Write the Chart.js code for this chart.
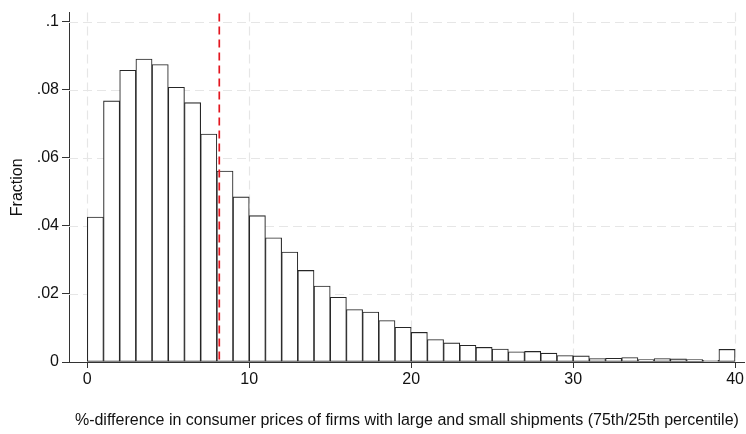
<!DOCTYPE html>
<html>
<head>
<meta charset="utf-8">
<script src="https://cdn.jsdelivr.net/npm/chart.js@4.4.1/dist/chart.umd.min.js"></script>
<style>
  html, body { margin: 0; padding: 0; background: #ffffff; }
  #wrap { width: 746px; height: 434px; }
</style>
</head>
<body>
<div id="wrap"><canvas id="hist" width="746" height="434"></canvas></div>
<script>
// Histogram bins: lower edge of each 1-point bin (percent difference)
const binStarts = [0,1,2,3,4,5,6,7,8,9,10,11,12,13,14,15,16,17,18,19,
                   20,21,22,23,24,25,26,27,28,29,30,31,32,33,34,35,36,37,38,39];
// Fraction of firms in each bin
const fractions = [0.0426,0.0767,0.0857,0.0890,0.0874,0.0807,0.0762,0.0670,0.0561,0.0485,
                   0.0430,0.0365,0.0323,0.0269,0.0223,0.0190,0.0154,0.0147,0.0122,0.0102,
                   0.0087,0.0066,0.0056,0.0049,0.0043,0.0038,0.0030,0.0031,0.0026,0.0019,
                   0.0018,0.0010,0.0011,0.0013,0.0007,0.0010,0.0009,0.0007,0.0005,0.0037];
const binWidth = 1;
// Mean of the distribution, marked with a dashed line
const meanValue = [8.15];

const xTickValues = [0, 10, 20, 30, 40];
const xTickLabels = ['0', '10', '20', '30', '40'];
const yTickValues = [0, 0.02, 0.04, 0.06, 0.08, 0.1];
const yTickLabels = ['0', '.02', '.04', '.06', '.08', '.1'];

const FONT = "'Liberation Sans', Arial, sans-serif";
const AXIS_COLOR = '#333333';
const GRID_COLOR = '#e6e6e6';
const TEXT_COLOR = '#111111';

const points = binStarts.map((b, i) => ({ x: b + binWidth / 2, y: fractions[i] }));

// Light dashed reference grid, drawn beneath the bars
const gridPlugin = {
  id: 'dashedGrid',
  beforeDatasetsDraw(chart) {
    const { ctx, chartArea, scales } = chart;
    const xs = scales.x, ys = scales.y;
    const xEnd = xs.getPixelForValue(xTickValues[xTickValues.length - 1]);
    ctx.save();
    ctx.strokeStyle = GRID_COLOR;
    ctx.lineWidth = 1.2;
    ctx.setLineDash([9, 5]);
    yTickValues.forEach(v => {
      if (v === 0) return;
      const y = Math.round(ys.getPixelForValue(v)) + 0.5;
      ctx.beginPath();
      ctx.moveTo(chartArea.left, y);
      ctx.lineTo(xEnd, y);
      ctx.stroke();
    });
    xTickValues.forEach(v => {
      const x = Math.round(xs.getPixelForValue(v)) + 0.5;
      ctx.beginPath();
      ctx.moveTo(x, chartArea.top);
      ctx.lineTo(x, chartArea.bottom);
      ctx.stroke();
    });
    ctx.restore();
  }
};

// Red dashed marker line at the mean
const meanLinePlugin = {
  id: 'meanLine',
  afterDatasetsDraw(chart) {
    const { ctx, chartArea, scales } = chart;
    ctx.save();
    ctx.strokeStyle = '#e3161f';
    ctx.lineWidth = 1.7;
    ctx.setLineDash([8, 5]);
    meanValue.forEach(v => {
      const x = scales.x.getPixelForValue(v);
      ctx.beginPath();
      ctx.moveTo(x, chartArea.top + 1);
      ctx.lineTo(x, chartArea.bottom);
      ctx.stroke();
    });
    ctx.restore();
  }
};

new Chart(document.getElementById('hist'), {
  type: 'bar',
  data: {
    datasets: [{
      data: points,
      backgroundColor: '#ffffff',
      borderColor: '#262626',
      borderWidth: 1.1,
      borderSkipped: false,
      barPercentage: 1,
      categoryPercentage: 1
    }]
  },
  options: {
    responsive: false,
    animation: false,
    devicePixelRatio: 1,
    layout: { padding: { top: 3, right: 1, left: 0, bottom: 0 } },
    plugins: { legend: { display: false }, tooltip: { enabled: false } },
    scales: {
      x: {
        type: 'linear',
        offset: false,
        min: -1.13,
        max: 40.6,
        afterBuildTicks(scale) { scale.ticks = xTickValues.map(v => ({ value: v })); },
        afterFit(scale) { scale.height = 72; },
        ticks: {
          autoSkip: false,
          maxRotation: 0,
          padding: 2,
          color: TEXT_COLOR,
          font: { family: FONT, size: 16 },
          callback: (v) => xTickLabels[xTickValues.indexOf(v)]
        },
        grid: {
          offset: false,
          drawOnChartArea: false,
          drawTicks: true,
          tickLength: 6,
          tickColor: AXIS_COLOR,
          tickWidth: 1
        },
        border: { display: true, color: AXIS_COLOR, width: 1 },
        title: {
          display: true,
          text: '%-difference in consumer prices of firms with large and small shipments (75th/25th percentile)',
          color: TEXT_COLOR,
          font: { family: FONT, size: 16 },
          padding: { top: 0, bottom: 3.5 }
        }
      },
      y: {
        type: 'linear',
        min: 0,
        max: 0.10266,
        afterBuildTicks(scale) { scale.ticks = yTickValues.map(v => ({ value: v })); },
        afterFit(scale) { scale.width = 69; },
        ticks: {
          autoSkip: false,
          padding: 3,
          color: TEXT_COLOR,
          font: { family: FONT, size: 16 },
          callback: (v) => yTickLabels[yTickValues.findIndex(t => Math.abs(t - v) < 1e-9)]
        },
        grid: {
          offset: false,
          drawOnChartArea: false,
          drawTicks: true,
          tickLength: 7,
          tickColor: AXIS_COLOR,
          tickWidth: 1
        },
        border: { display: true, color: AXIS_COLOR, width: 1 },
        title: {
          display: true,
          text: 'Fraction',
          color: TEXT_COLOR,
          font: { family: FONT, size: 16 },
          padding: { top: 8, bottom: 0 }
        }
      }
    }
  },
  plugins: [gridPlugin, meanLinePlugin]
});
</script>
</body>
</html>
